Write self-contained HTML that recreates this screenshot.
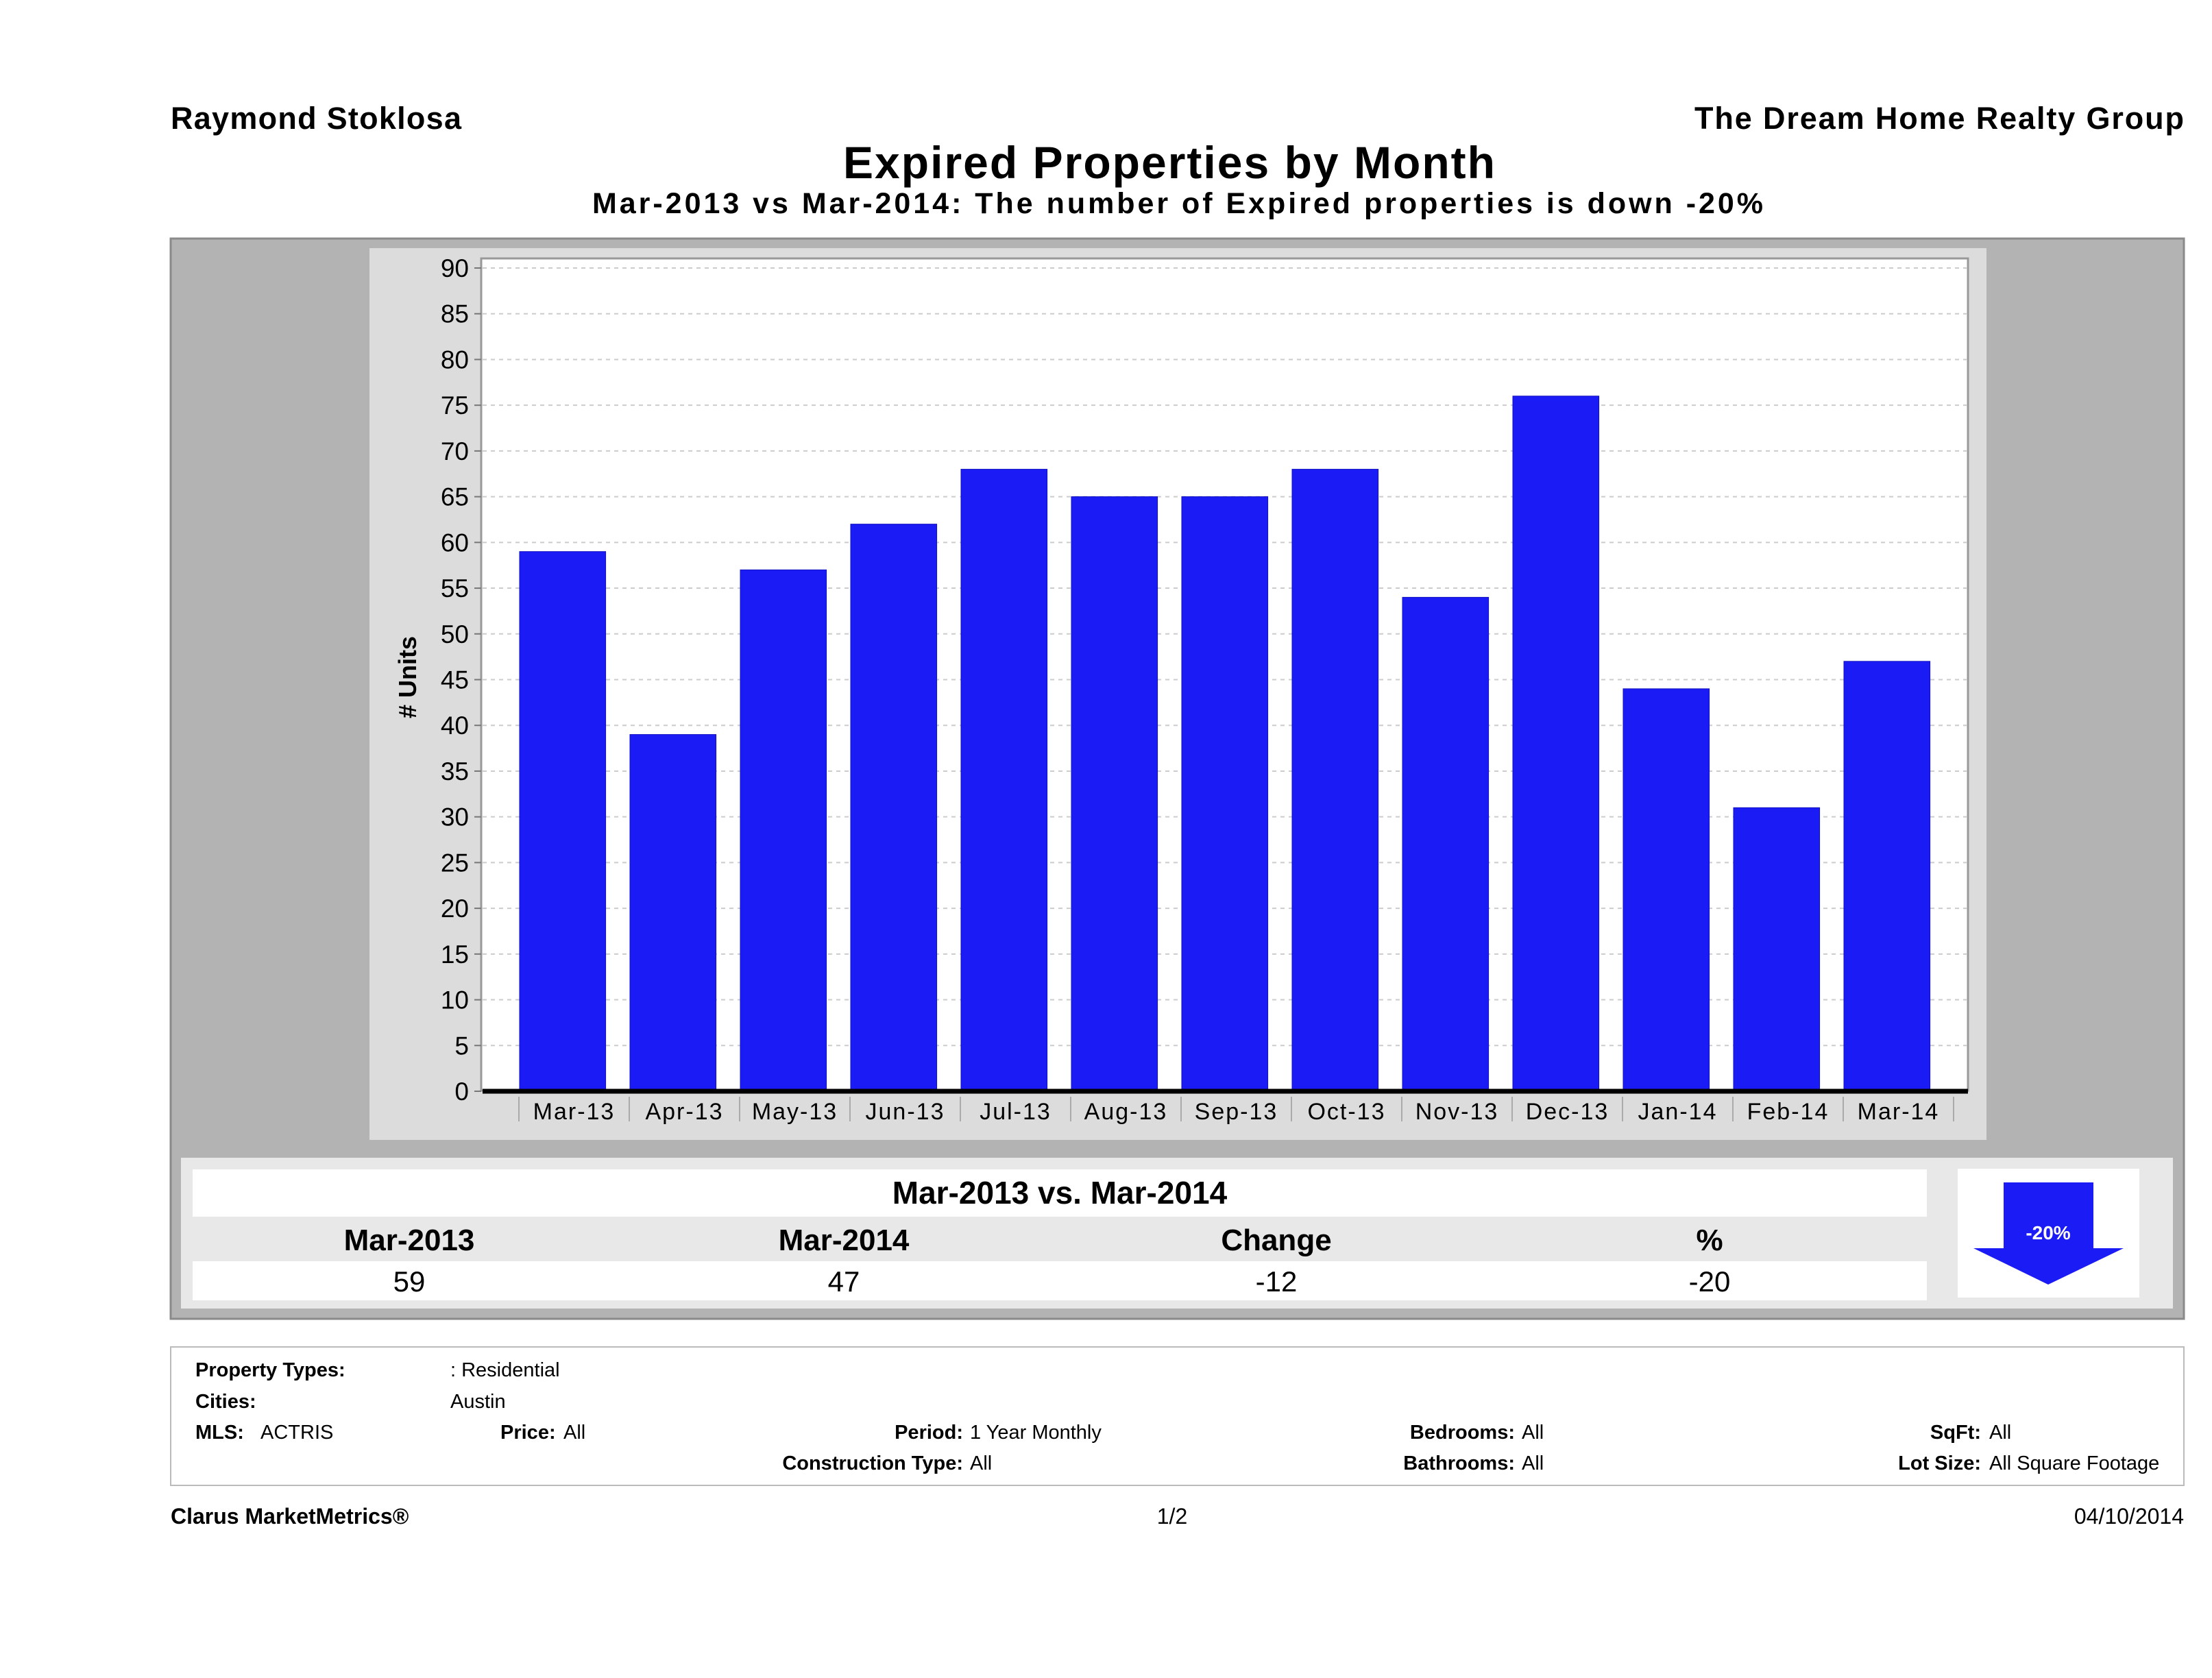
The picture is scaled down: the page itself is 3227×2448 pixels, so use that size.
<!DOCTYPE html>
<html><head><meta charset="utf-8"><style>
html,body{margin:0;padding:0;background:#fff;}
svg{display:block;font-family:"Liberation Sans",sans-serif;}
</style></head><body>
<svg id="root" width="3227" height="2448" viewBox="0 0 3227 2448" xmlns="http://www.w3.org/2000/svg">
<text x="249" y="188" font-size="45" font-weight="bold" textLength="424" lengthAdjust="spacing">Raymond Stoklosa</text>
<text x="2472" y="188" font-size="45" font-weight="bold" textLength="714" lengthAdjust="spacing">The Dream Home Realty Group</text>
<text x="1230" y="260" font-size="66" font-weight="bold" textLength="951" lengthAdjust="spacing">Expired Properties by Month</text>
<text x="864" y="311" font-size="43" font-weight="bold" textLength="1708" lengthAdjust="spacing">Mar-2013 vs Mar-2014: The number of Expired  properties is down -20%</text>

<rect x="249" y="348" width="2937" height="1576" fill="#b3b3b3" stroke="#8a8a8a" stroke-width="3"/>
<rect x="539" y="362" width="2359" height="1301" fill="#dcdcdc"/>
<rect x="702" y="377" width="2169" height="1214" fill="#fff" stroke="#999" stroke-width="3"/>
<g id="grid"></g>
<g id="bars"></g>
<g id="yaxis"></g>
<g id="xaxis"></g>
<text transform="translate(607,988) rotate(-90)" font-size="36" font-weight="bold" text-anchor="middle"># Units</text>

<rect x="264" y="1689" width="2906" height="220" fill="#e8e8e8"/>
<rect x="281" y="1706" width="2530" height="69" fill="#fff"/>
<text x="1546" y="1756" font-size="46" font-weight="bold" text-anchor="middle">Mar-2013 vs. Mar-2014</text>
<rect x="281" y="1840" width="2530" height="57" fill="#fff"/>
<text x="597" y="1824" font-size="44" font-weight="bold" text-anchor="middle">Mar-2013</text>
<text x="1231" y="1824" font-size="44" font-weight="bold" text-anchor="middle">Mar-2014</text>
<text x="1862" y="1824" font-size="44" font-weight="bold" text-anchor="middle">Change</text>
<text x="2494" y="1824" font-size="44" font-weight="bold" text-anchor="middle">%</text>
<text x="597" y="1884" font-size="42" text-anchor="middle">59</text>
<text x="1231" y="1884" font-size="42" text-anchor="middle">47</text>
<text x="1862" y="1884" font-size="42" text-anchor="middle">-12</text>
<text x="2494" y="1884" font-size="42" text-anchor="middle">-20</text>
<rect x="2856" y="1705" width="265" height="188" fill="#fff"/>
<polygon points="2923,1725 3054,1725 3054,1821 3098,1821 2988,1874 2879,1821 2923,1821" fill="#1b1bf5"/>
<text x="2988" y="1808" font-size="28" font-weight="bold" fill="#fff" text-anchor="middle">-20%</text>

<rect x="249" y="1965" width="2937" height="202" fill="#fff" stroke="#bbb" stroke-width="2"/>
<g font-size="29">
<text x="285" y="2008" font-weight="bold">Property Types:</text>
<text x="657" y="2008">: Residential</text>
<text x="285" y="2054" font-weight="bold">Cities:</text>
<text x="657" y="2054">Austin</text>
<text x="285" y="2099" font-weight="bold">MLS:</text>
<text x="380" y="2099">ACTRIS</text>
<text x="730" y="2099" font-weight="bold">Price:</text>
<text x="822" y="2099">All</text>
<text x="1405" y="2099" font-weight="bold" text-anchor="end">Period:</text>
<text x="1415" y="2099">1 Year Monthly</text>
<text x="1405" y="2144" font-weight="bold" text-anchor="end">Construction Type:</text>
<text x="1415" y="2144">All</text>
<text x="2210" y="2099" font-weight="bold" text-anchor="end">Bedrooms:</text>
<text x="2220" y="2099">All</text>
<text x="2210" y="2144" font-weight="bold" text-anchor="end">Bathrooms:</text>
<text x="2220" y="2144">All</text>
<text x="2890" y="2099" font-weight="bold" text-anchor="end">SqFt:</text>
<text x="2902" y="2099">All</text>
<text x="2890" y="2144" font-weight="bold" text-anchor="end">Lot Size:</text>
<text x="2902" y="2144">All Square Footage</text>
</g>
<text x="249" y="2223" font-size="32" font-weight="bold">Clarus MarketMetrics®</text>
<text x="1710" y="2223" font-size="32" text-anchor="middle">1/2</text>
<text x="3186" y="2223" font-size="32" text-anchor="end">04/10/2014</text>
</svg>
<script>
const categories = ["Mar-13","Apr-13","May-13","Jun-13","Jul-13","Aug-13","Sep-13","Oct-13","Nov-13","Dec-13","Jan-14","Feb-14","Mar-14"];
const values = [59,39,57,62,68,65,65,68,54,76,44,31,47];
const yTicks = [0,5,10,15,20,25,30,35,40,45,50,55,60,65,70,75,80,85,90];
const NS = "http://www.w3.org/2000/svg";
const plot = {x0:757, x1:2850, yTop:391, yBot:1592, vmax:90};
const yScale = v => plot.yBot - (v/plot.vmax)*(plot.yBot-plot.yTop);
const band = (plot.x1-plot.x0)/categories.length;
const xScale = i => plot.x0 + i*band;
function mk(tag, attrs, parent){const e=document.createElementNS(NS,tag);for(const k in attrs)e.setAttribute(k,attrs[k]);parent.appendChild(e);return e;}
const grid=document.getElementById('grid'), bars=document.getElementById('bars'), ya=document.getElementById('yaxis'), xa=document.getElementById('xaxis');
yTicks.forEach(t=>{
  const y=yScale(t);
  if(t>0){const g=mk('line',{x1:704,x2:2869,y1:y,y2:y,stroke:'#ccc','stroke-width':2,'stroke-dasharray':'6,6'},grid);
  
  }
  const tk=mk('line',{x1:692,x2:702,y1:y,y2:y,stroke:'#777','stroke-width':2},ya);
  
  
  const tx=mk('text',{x:684,y:y+13,'font-size':37,'text-anchor':'end'},ya);
  tx.textContent=t;
  
  
});
values.forEach((v,i)=>{
  const x=xScale(i)+1, y=yScale(v);
  const r=mk('rect',{x:x,y:y,width:band*0.78,height:plot.yBot-y,fill:'#1b1bf5',stroke:'#1010c0','stroke-width':1},bars);
  
  
});
const axis=mk('line',{x1:704,x2:2871,y1:plot.yBot,y2:plot.yBot,stroke:'#000','stroke-width':7},xa);


categories.forEach((c,i)=>{
  const s=mk('line',{x1:xScale(i),x2:xScale(i),y1:1600,y2:1636,stroke:'#aaa','stroke-width':2},xa);
  
  
  const t=mk('text',{x:xScale(i)+band/2,y:1633,'font-size':34,'text-anchor':'middle','letter-spacing':2},xa);
  t.textContent=c;
  
  
});
const last=mk('line',{x1:xScale(categories.length),x2:xScale(categories.length),y1:1600,y2:1636,stroke:'#aaa','stroke-width':2},xa);


</script>
</body></html>
